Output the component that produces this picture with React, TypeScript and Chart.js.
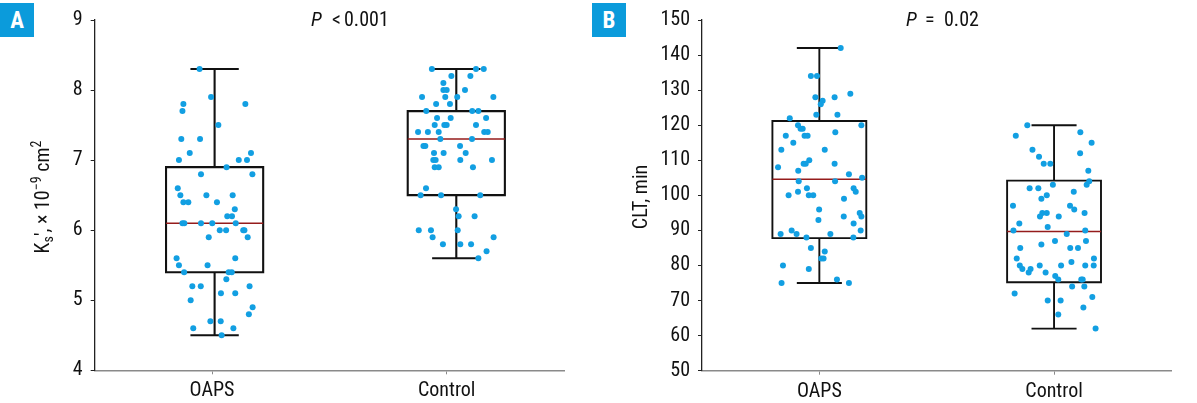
import React, { useEffect, useRef } from 'react';
import { Chart, registerables } from 'chart.js';
Chart.register(...registerables);

const FONT = '"Roboto Condensed", Roboto, "Liberation Sans", sans-serif';

const categories = ['OAPS', 'Control'];

// ---- Panel A: Ks x 10^-9 cm^2 ----
const ksTickValues = [4, 5, 6, 7, 8, 9];
const ksMin = [4.5, 5.6];
const ksQ1 = [5.4, 6.5];
const ksMedian = [6.1, 7.3];
const ksQ3 = [6.9, 7.7];
const ksMax = [8.3, 8.3];

const ksOapsY = [8.3, 7.9, 7.8, 7.8, 7.7, 7.5, 7.3, 7.3, 7.1, 7.1, 7.0, 7.0, 7.0, 6.9, 6.8, 6.8, 6.6, 6.5, 6.5, 6.5, 6.4, 6.4, 6.4, 6.3, 6.2, 6.2, 6.1, 6.1, 6.1, 6.1, 6.1, 6.0, 6.0, 6.0, 6.0, 5.9, 5.9, 5.6, 5.6, 5.5, 5.5, 5.4, 5.4, 5.4, 5.3, 5.2, 5.2, 5.2, 5.1, 5.1, 5.0, 4.9, 4.8, 4.7, 4.7, 4.6, 4.6, 4.5];
const ksOapsX = [0.447, 0.496, 0.378, 0.642, 0.374, 0.527, 0.369, 0.449, 0.405, 0.666, 0.359, 0.614, 0.649, 0.562, 0.453, 0.672, 0.354, 0.365, 0.476, 0.588, 0.378, 0.399, 0.521, 0.597, 0.565, 0.585, 0.374, 0.382, 0.453, 0.501, 0.601, 0.533, 0.560, 0.633, 0.638, 0.486, 0.652, 0.349, 0.599, 0.359, 0.481, 0.381, 0.571, 0.584, 0.561, 0.416, 0.452, 0.660, 0.538, 0.599, 0.409, 0.673, 0.657, 0.493, 0.537, 0.420, 0.591, 0.541];

const ksControlY = [8.3, 8.3, 8.3, 8.2, 8.2, 8.1, 8.0, 8.0, 8.0, 7.9, 7.9, 7.9, 7.9, 7.8, 7.8, 7.7, 7.7, 7.7, 7.6, 7.6, 7.6, 7.5, 7.5, 7.5, 7.5, 7.4, 7.4, 7.4, 7.4, 7.4, 7.3, 7.3, 7.2, 7.2, 7.2, 7.1, 7.1, 7.1, 7.0, 7.0, 7.0, 7.0, 6.9, 6.9, 6.9, 6.6, 6.5, 6.5, 6.5, 6.3, 6.2, 6.2, 6.0, 6.0, 6.0, 5.9, 5.9, 5.8, 5.8, 5.8, 5.7, 5.6];
const ksControlX = [1.437, 1.625, 1.658, 1.520, 1.601, 1.486, 1.486, 1.500, 1.578, 1.395, 1.494, 1.545, 1.699, 1.455, 1.514, 1.413, 1.609, 1.635, 1.459, 1.517, 1.668, 1.449, 1.490, 1.500, 1.625, 1.378, 1.420, 1.466, 1.660, 1.675, 1.473, 1.608, 1.401, 1.409, 1.557, 1.446, 1.487, 1.581, 1.443, 1.453, 1.558, 1.693, 1.449, 1.466, 1.612, 1.412, 1.389, 1.476, 1.643, 1.540, 1.551, 1.619, 1.381, 1.433, 1.547, 1.440, 1.700, 1.484, 1.558, 1.604, 1.670, 1.635];

// ---- Panel B: CLT, min ----
const cltTickValues = [50, 60, 70, 80, 90, 100, 110, 120, 130, 140, 150];
const cltMin = [75, 62];
const cltQ1 = [87.8, 75.2];
const cltMedian = [104.6, 89.7];
const cltQ3 = [121.2, 104.2];
const cltMax = [142, 120];

const cltOapsY = [142, 134, 134, 129, 128, 128, 127, 126, 123, 123, 122, 120, 120, 119, 119, 118, 117, 117, 117, 115, 113, 113, 110, 109, 109, 109, 108, 107, 106, 105, 104, 104, 102, 102, 101, 101, 100, 100, 100, 99, 96, 95, 94, 94, 93, 92, 90, 90, 89, 89, 89, 88, 88, 85, 84, 82, 82, 80, 79, 76, 75, 75];
const cltOapsX = [0.591, 0.464, 0.490, 0.632, 0.483, 0.565, 0.514, 0.506, 0.487, 0.577, 0.374, 0.409, 0.679, 0.420, 0.429, 0.568, 0.357, 0.437, 0.450, 0.389, 0.338, 0.523, 0.457, 0.433, 0.442, 0.565, 0.324, 0.410, 0.626, 0.682, 0.412, 0.567, 0.447, 0.646, 0.409, 0.655, 0.369, 0.455, 0.474, 0.605, 0.499, 0.672, 0.604, 0.679, 0.496, 0.646, 0.382, 0.676, 0.335, 0.403, 0.547, 0.445, 0.645, 0.464, 0.523, 0.508, 0.518, 0.345, 0.455, 0.575, 0.339, 0.626];

const cltControlY = [120, 118, 117, 115, 113, 112, 111, 109, 109, 107, 104, 103, 103, 102, 102, 101, 100, 99, 97, 97, 96, 95, 95, 95, 94, 94, 92, 91, 90, 90, 89, 87, 87, 86, 85, 85, 85, 82, 82, 81, 80, 80, 80, 80, 80, 79, 79, 78, 78, 77, 76, 76, 76, 74, 74, 72, 71, 70, 70, 68, 66, 62];
const cltControlX = [1.386, 1.612, 1.337, 1.660, 1.408, 1.611, 1.436, 1.456, 1.484, 1.646, 1.650, 1.639, 1.495, 1.396, 1.433, 1.584, 1.469, 1.446, 1.325, 1.568, 1.586, 1.450, 1.469, 1.630, 1.440, 1.520, 1.352, 1.473, 1.327, 1.633, 1.554, 1.636, 1.504, 1.446, 1.356, 1.569, 1.602, 1.341, 1.670, 1.574, 1.354, 1.439, 1.530, 1.633, 1.669, 1.365, 1.400, 1.392, 1.464, 1.505, 1.518, 1.616, 1.622, 1.577, 1.629, 1.332, 1.663, 1.473, 1.528, 1.625, 1.518, 1.677];

const POINT_COLOR = '#129fe2';
const LABEL_BLUE = '#0b9bdb';
const MEDIAN_COLOR = '#951c1c';
const TEXT_COLOR = '#111111';

type Run = { t: string; size?: number; italic?: boolean; dy?: number; at?: number };

function runFont(r: Run, base: number) {
  return `${r.italic ? 'italic ' : ''}${r.size || base}px ${FONT}`;
}

// Rotated title, centred on (cx, cy)
function drawRotatedRuns(ctx: CanvasRenderingContext2D, runs: Run[], cx: number, cy: number, base: number) {
  ctx.save();
  ctx.translate(cx, cy);
  ctx.rotate(-Math.PI / 2);
  ctx.textAlign = 'left';
  ctx.textBaseline = 'alphabetic';
  ctx.fillStyle = TEXT_COLOR;
  let total = 0;
  const widths = runs.map((r) => {
    ctx.font = runFont(r, base);
    const w = ctx.measureText(r.t).width;
    total += w;
    return w;
  });
  let x = -total / 2;
  runs.forEach((r, i) => {
    ctx.font = runFont(r, base);
    ctx.fillText(r.t, x, 7 + (r.dy || 0));
    x += widths[i];
  });
  ctx.restore();
}

// Horizontal pieces, each at its own left position, on a shared baseline
function drawPlacedRuns(ctx: CanvasRenderingContext2D, runs: Run[], baseline: number, base: number) {
  ctx.save();
  ctx.textAlign = 'left';
  ctx.textBaseline = 'alphabetic';
  ctx.fillStyle = TEXT_COLOR;
  runs.forEach((r) => {
    ctx.font = runFont(r, base);
    ctx.fillText(r.t, r.at || 0, baseline + (r.dy || 0));
  });
  ctx.restore();
}

const textPlugin = {
  id: 'panelText',
  afterDraw(chart: any, _args: any, opts: any) {
    const ctx = chart.ctx as CanvasRenderingContext2D;
    drawRotatedRuns(ctx, opts.title, opts.titleX, opts.titleY, 20);
    drawPlacedRuns(ctx, opts.pText, opts.pY, 20);
  },
};

function boxOutline(centers: number[], half: number, q1: number[], q3: number[]) {
  const d: any[] = [];
  centers.forEach((c, i) => {
    d.push({ x: c - half, y: q1[i] }, { x: c + half, y: q1[i] }, { x: c + half, y: q3[i] }, { x: c - half, y: q3[i] }, { x: c - half, y: q1[i] }, { x: c, y: null });
  });
  return d;
}

function whiskerLines(centers: number[], cap: number, q1: number[], q3: number[], mn: number[], mx: number[]) {
  const d: any[] = [];
  centers.forEach((c, i) => {
    d.push({ x: c, y: q3[i] }, { x: c, y: mx[i] }, { x: c, y: null });
    d.push({ x: c - cap, y: mx[i] }, { x: c + cap, y: mx[i] }, { x: c, y: null });
    d.push({ x: c, y: q1[i] }, { x: c, y: mn[i] }, { x: c, y: null });
    d.push({ x: c - cap, y: mn[i] }, { x: c + cap, y: mn[i] }, { x: c, y: null });
  });
  return d;
}

function medianLines(centers: number[], half: number, med: number[]) {
  const d: any[] = [];
  centers.forEach((c, i) => {
    d.push({ x: c - half, y: med[i] }, { x: c + half, y: med[i] }, { x: c, y: null });
  });
  return d;
}

function pts(xs: number[], ys: number[]) {
  return ys.map((y, i) => ({ x: xs[i], y }));
}

type Spec = {
  left: number; width: number; height: number;
  yMin: number; yMax: number; yTicks: number[];
  yAxisWidth: number; rightPad: number; topPad: number; xAxisHeight: number;
  centers: number[]; boxHalf: number; capHalf: number; lineW: number;
  q1: number[]; med: number[]; q3: number[]; mn: number[]; mx: number[];
  groups: { x: number[]; y: number[] }[];
  title: Run[]; titleX: number; titleY: number;
  pText: Run[]; pY: number;
};

function Panel({ spec }: { spec: Spec }) {
  const ref = useRef<HTMLCanvasElement | null>(null);
  useEffect(() => {
    if (!ref.current) return;
    const s = spec;
    const chart = new Chart(ref.current, {
      type: 'scatter',
      data: {
        datasets: [
          ...s.groups.map((g) => ({
            data: pts(g.x, g.y),
            backgroundColor: POINT_COLOR,
            borderWidth: 0,
            pointRadius: 3,
            pointHoverRadius: 3,
            order: 0,
          })),
          {
            data: medianLines(s.centers, s.boxHalf, s.med),
            showLine: true,
            borderColor: MEDIAN_COLOR,
            borderWidth: 1.5,
            pointRadius: 0,
            spanGaps: false,
            order: 1,
          },
          {
            data: boxOutline(s.centers, s.boxHalf, s.q1, s.q3),
            showLine: true,
            borderColor: '#111',
            borderWidth: s.lineW,
            borderCapStyle: 'square',
            borderJoinStyle: 'miter',
            pointRadius: 0,
            spanGaps: false,
            order: 2,
          },
          {
            data: whiskerLines(s.centers, s.capHalf, s.q1, s.q3, s.mn, s.mx),
            showLine: true,
            borderColor: '#111',
            borderWidth: s.lineW,
            pointRadius: 0,
            spanGaps: false,
            order: 3,
          },
        ] as any,
      },
      options: {
        animation: false,
        responsive: false,
        devicePixelRatio: 1,
        events: [],
        layout: { padding: { left: 0, right: s.rightPad, top: s.topPad, bottom: 0 } },
        plugins: {
          legend: { display: false },
          tooltip: { enabled: false },
          panelText: { title: s.title, titleX: s.titleX, titleY: s.titleY, pText: s.pText, pY: s.pY },
        } as any,
        scales: {
          x: {
            type: 'linear',
            min: 0,
            max: 2,
            afterBuildTicks: (sc: any) => {
              sc.ticks = categories.map((_, i) => ({ value: i + 0.5 }));
            },
            afterFit: (sc: any) => {
              sc.height = s.xAxisHeight;
            },
            ticks: {
              font: { family: FONT, size: 20 },
              color: TEXT_COLOR,
              padding: 5,
              maxRotation: 0,
              autoSkip: false,
              callback: (v: any) => categories[Math.round(Number(v) - 0.5)] ?? '',
            },
            grid: { display: true, drawOnChartArea: false, drawTicks: true, tickLength: 4, color: '#8a8a8a', lineWidth: 1 },
            border: { display: true, color: '#8a8a8a', width: 1.5 },
          },
          y: {
            type: 'linear',
            min: s.yMin,
            max: s.yMax,
            afterBuildTicks: (sc: any) => {
              sc.ticks = s.yTicks.map((v) => ({ value: v }));
            },
            afterFit: (sc: any) => {
              sc.width = s.yAxisWidth;
            },
            ticks: { font: { family: FONT, size: 20 }, color: TEXT_COLOR, padding: 8 },
            grid: { display: true, drawOnChartArea: false, drawTicks: true, tickLength: 4, color: '#222', lineWidth: 1 },
            border: { display: true, color: '#222', width: 1.3 },
          },
        },
      } as any,
      plugins: [textPlugin as any],
    });
    return () => chart.destroy();
  }, []);
  return (
    <canvas
      ref={ref}
      width={spec.width}
      height={spec.height}
      style={{ position: 'absolute', left: spec.left, top: 0, width: spec.width, height: spec.height }}
    />
  );
}

const specA: Spec = {
  left: 0, width: 598, height: 403,
  yMin: 4, yMax: 9, yTicks: ksTickValues,
  yAxisWidth: 94.7, rightPad: 34, topPad: 12.7, xAxisHeight: 32.7,
  centers: [0.511, 1.541], boxHalf: 0.207, capHalf: 0.103, lineW: 2.1,
  q1: ksQ1, med: ksMedian, q3: ksQ3, mn: ksMin, mx: ksMax,
  groups: [{ x: ksOapsX, y: ksOapsY }, { x: ksControlX, y: ksControlY }],
  title: [
    { t: 'K' },
    { t: 's', size: 14, dy: 4 },
    { t: '′, × 10' },
    { t: '−9', size: 14, dy: -8 },
    { t: ' cm' },
    { t: '2', size: 14, dy: -8 },
  ],
  titleX: 42, titleY: 197,
  pText: [
    { t: 'P', italic: true, at: 311 },
    { t: '<', at: 332 },
    { t: '0.001', at: 344 },
  ],
  pY: 26,
};

const specB: Spec = {
  left: 598, width: 599, height: 403,
  yMin: 50, yMax: 150, yTicks: cltTickValues,
  yAxisWidth: 104, rightPad: 25.6, topPad: 14, xAxisHeight: 32.3,
  centers: [0.5, 1.5], boxHalf: 0.2, capHalf: 0.096, lineW: 1.9,
  q1: cltQ1, med: cltMedian, q3: cltQ3, mn: cltMin, mx: cltMax,
  groups: [{ x: cltOapsX, y: cltOapsY }, { x: cltControlX, y: cltControlY }],
  title: [{ t: 'CLT, min' }],
  titleX: 42, titleY: 197,
  pText: [
    { t: 'P', italic: true, at: 308 },
    { t: '=', at: 327 },
    { t: '0.02', at: 346 },
  ],
  pY: 26,
};

const labelStyle = (left: number, top: number): React.CSSProperties => ({
  position: 'absolute',
  left,
  top,
  width: 34,
  height: 34,
  background: LABEL_BLUE,
  color: '#fff',
  font: `bold 23px ${FONT}`,
  display: 'flex',
  alignItems: 'center',
  justifyContent: 'center',
});

export default function App() {
  return (
    <div style={{ position: 'fixed', left: 0, top: 0, width: 1197, height: 403, background: '#fff', overflow: 'hidden' }}>
      <Panel spec={specA} />
      <Panel spec={specB} />
      <div style={labelStyle(0, 3)}>A</div>
      <div style={labelStyle(592, 3)}>B</div>
    </div>
  );
}
